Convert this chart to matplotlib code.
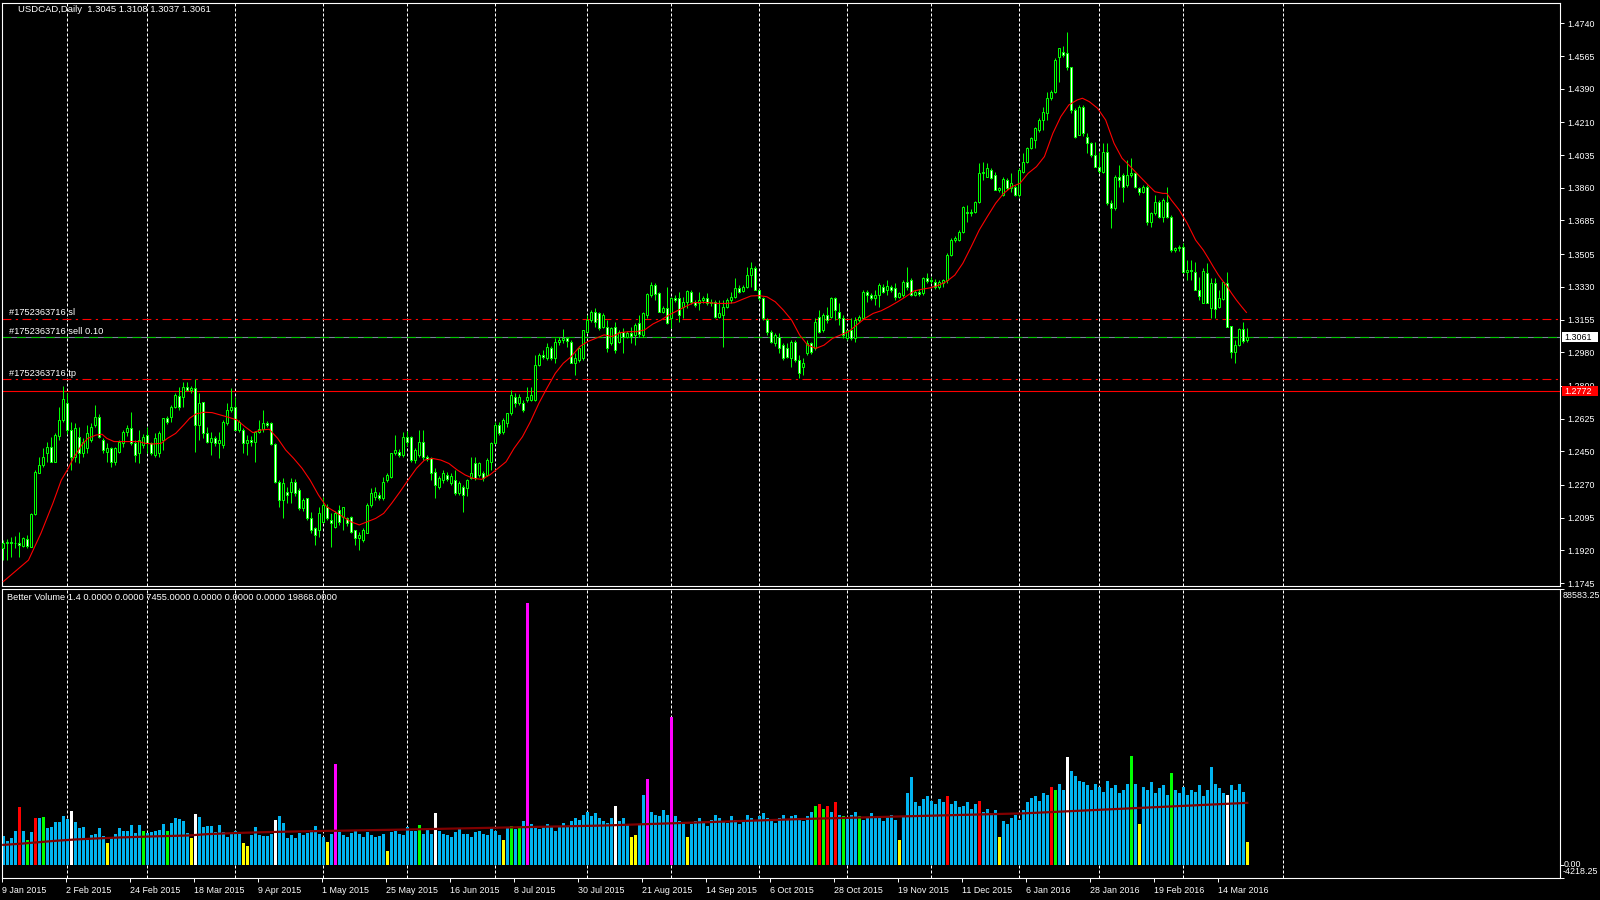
import numpy as np
import matplotlib.pyplot as plt
from matplotlib.patches import Rectangle

plt.rcParams['font.family'] = ['Liberation Sans', 'DejaVu Sans']

# USDCAD daily candles, bar 0 = 9 Jan 2015, bar 311 = 23 Mar 2016
opens = [
    1.1930, 1.1960, 1.1966, 1.1957, 1.1960, 1.1945, 1.1982, 1.1940, 1.2115, 1.2332,
    1.2377, 1.2439, 1.2475, 1.2394, 1.2530, 1.2618, 1.2707, 1.2566, 1.2421, 1.2528,
    1.2439, 1.2466, 1.2511, 1.2591, 1.2633, 1.2511, 1.2448, 1.2466, 1.2394, 1.2448,
    1.2493, 1.2555, 1.2573, 1.2493, 1.2439, 1.2484, 1.2537, 1.2493, 1.2430, 1.2439,
    1.2511, 1.2627, 1.2636, 1.2689, 1.2746, 1.2742, 1.2796, 1.2778, 1.2787, 1.2591,
    1.2716, 1.2546, 1.2500, 1.2519, 1.2495, 1.2484, 1.2600, 1.2671, 1.2689, 1.2564,
    1.2564, 1.2493, 1.2511, 1.2500, 1.2555, 1.2570, 1.2600, 1.2600, 1.2490, 1.2287,
    1.2189, 1.2234, 1.2234, 1.2287, 1.2243, 1.2145, 1.2198, 1.2091, 1.2038, 1.2029,
    1.2073, 1.2154, 1.2082, 1.2047, 1.2136, 1.2100, 1.2091, 1.2100, 1.2029, 1.1984,
    1.1975, 1.2011, 1.2163, 1.2207, 1.2216, 1.2198, 1.2296, 1.2314, 1.2439, 1.2448,
    1.2430, 1.2528, 1.2528, 1.2403, 1.2430, 1.2502, 1.2421, 1.2412, 1.2341, 1.2261,
    1.2296, 1.2323, 1.2280, 1.2296, 1.2225, 1.2261, 1.2252, 1.2305, 1.2385, 1.2323,
    1.2332, 1.2323, 1.2394, 1.2493, 1.2591, 1.2555, 1.2600, 1.2653, 1.2742, 1.2707,
    1.2707, 1.2725, 1.2725, 1.2725, 1.2912, 1.2966, 1.2948, 1.3001, 1.2948, 1.3037,
    1.3046, 1.3055, 1.3037, 1.2921, 1.2939, 1.2948, 1.3090, 1.3153, 1.3197, 1.3188,
    1.3117, 1.3117, 1.3028, 1.3117, 1.3037, 1.3090, 1.3063, 1.3085, 1.3072, 1.3135,
    1.3070, 1.3179, 1.3286, 1.3340, 1.3295, 1.3197, 1.3215, 1.3161, 1.3268, 1.3268,
    1.3224, 1.3250, 1.3304, 1.3250, 1.3241, 1.3259, 1.3268, 1.3241, 1.3250, 1.3170,
    1.3179, 1.3224, 1.3259, 1.3277, 1.3322, 1.3310, 1.3331, 1.3393, 1.3429, 1.3313,
    1.3268, 1.3152, 1.3090, 1.3027, 1.3063, 1.3018, 1.3001, 1.2947, 1.3036, 1.2938,
    1.2902, 1.2974, 1.3027, 1.3001, 1.3170, 1.3099, 1.3179, 1.3170, 1.3268, 1.3197,
    1.3161, 1.3054, 1.3099, 1.3054, 1.3152, 1.3161, 1.3304, 1.3286, 1.3268, 1.3286,
    1.3331, 1.3313, 1.3331, 1.3322, 1.3277, 1.3286, 1.3358, 1.3366, 1.3286, 1.3304,
    1.3295, 1.3375, 1.3360, 1.3358, 1.3331, 1.3349, 1.3366, 1.3500, 1.3580, 1.3580,
    1.3625, 1.3732, 1.3723, 1.3732, 1.3786, 1.3937, 1.3920, 1.3955, 1.3928, 1.3848,
    1.3821, 1.3902, 1.3857, 1.3866, 1.3821, 1.3946, 1.4000, 1.4071, 1.4116, 1.4169,
    1.4223, 1.4258, 1.4339, 1.4374, 1.4562, 1.4589, 1.4580, 1.4508, 1.4276, 1.4143,
    1.4290, 1.4134, 1.4098, 1.4035, 1.3973, 1.3946, 1.4053, 1.3777, 1.3750, 1.3920,
    1.3928, 1.3875, 1.3928, 1.3937, 1.3857, 1.3840, 1.3866, 1.3679, 1.3723, 1.3786,
    1.3705, 1.3786, 1.3705, 1.3527, 1.3536, 1.3545, 1.3411, 1.3420, 1.3411, 1.3313,
    1.3245, 1.3406, 1.3215, 1.3349, 1.3224, 1.3263, 1.3349, 1.3120, 1.2983, 1.3019,
    1.3104, 1.3045,
]
highs = [
    1.1975, 1.1980, 1.1993, 1.1995, 1.2020, 1.1993, 1.2002, 1.2118, 1.2350, 1.2421,
    1.2466, 1.2502, 1.2528, 1.2546, 1.2689, 1.2801, 1.2760, 1.2609, 1.2600, 1.2582,
    1.2520, 1.2591, 1.2600, 1.2698, 1.2650, 1.2520, 1.2493, 1.2475, 1.2475, 1.2511,
    1.2564, 1.2590, 1.2662, 1.2511, 1.2564, 1.2540, 1.2582, 1.2500, 1.2546, 1.2560,
    1.2630, 1.2640, 1.2698, 1.2760, 1.2796, 1.2823, 1.2823, 1.2800, 1.2835, 1.2760,
    1.2716, 1.2582, 1.2555, 1.2530, 1.2555, 1.2618, 1.2707, 1.2787, 1.2742, 1.2620,
    1.2573, 1.2537, 1.2530, 1.2560, 1.2618, 1.2671, 1.2610, 1.2609, 1.2493, 1.2296,
    1.2305, 1.2261, 1.2305, 1.2300, 1.2252, 1.2200, 1.2198, 1.2127, 1.2047, 1.2154,
    1.2207, 1.2170, 1.2118, 1.2130, 1.2163, 1.2154, 1.2100, 1.2105, 1.2029, 1.2020,
    1.2038, 1.2172, 1.2252, 1.2261, 1.2230, 1.2314, 1.2335, 1.2440, 1.2537, 1.2460,
    1.2555, 1.2560, 1.2530, 1.2470, 1.2564, 1.2564, 1.2430, 1.2421, 1.2359, 1.2320,
    1.2350, 1.2340, 1.2335, 1.2350, 1.2290, 1.2270, 1.2300, 1.2421, 1.2421, 1.2395,
    1.2345, 1.2412, 1.2502, 1.2609, 1.2609, 1.2630, 1.2653, 1.2778, 1.2760, 1.2755,
    1.2725, 1.2796, 1.2796, 1.2966, 1.2974, 1.2990, 1.3028, 1.3015, 1.3055, 1.3060,
    1.3103, 1.3064, 1.3046, 1.2974, 1.3010, 1.3099, 1.3180, 1.3206, 1.3215, 1.3195,
    1.3190, 1.3153, 1.3115, 1.3144, 1.3100, 1.3108, 1.3095, 1.3117, 1.3135, 1.3179,
    1.3197, 1.3295, 1.3358, 1.3349, 1.3304, 1.3225, 1.3331, 1.3277, 1.3285, 1.3304,
    1.3277, 1.3313, 1.3313, 1.3260, 1.3304, 1.3280, 1.3295, 1.3265, 1.3259, 1.3259,
    1.3259, 1.3270, 1.3304, 1.3375, 1.3340, 1.3340, 1.3438, 1.3465, 1.3440, 1.3320,
    1.3277, 1.3161, 1.3099, 1.3085, 1.3081, 1.3027, 1.3027, 1.3045, 1.3045, 1.2965,
    1.2947, 1.3045, 1.3036, 1.3161, 1.3206, 1.3190, 1.3224, 1.3277, 1.3277, 1.3241,
    1.3179, 1.3099, 1.3161, 1.3170, 1.3180, 1.3313, 1.3313, 1.3295, 1.3313, 1.3349,
    1.3345, 1.3366, 1.3340, 1.3349, 1.3305, 1.3366, 1.3438, 1.3375, 1.3315, 1.3320,
    1.3384, 1.3402, 1.3380, 1.3370, 1.3365, 1.3370, 1.3509, 1.3589, 1.3600, 1.3634,
    1.3765, 1.3768, 1.3745, 1.3790, 1.3991, 1.4000, 1.3991, 1.3965, 1.3946, 1.3865,
    1.3920, 1.3910, 1.3937, 1.3875, 1.3964, 1.4044, 1.4080, 1.4134, 1.4187, 1.4235,
    1.4294, 1.4374, 1.4385, 1.4553, 1.4610, 1.4620, 1.4696, 1.4508, 1.4285, 1.4303,
    1.4303, 1.4151, 1.4107, 1.4107, 1.4053, 1.4098, 1.4098, 1.3795, 1.3928, 1.3982,
    1.3937, 1.4009, 1.4018, 1.3946, 1.3866, 1.3875, 1.3875, 1.3732, 1.3821, 1.3795,
    1.3804, 1.3866, 1.3714, 1.3545, 1.3555, 1.3563, 1.3473, 1.3473, 1.3465, 1.3384,
    1.3429, 1.3456, 1.3375, 1.3375, 1.3313, 1.3358, 1.3411, 1.3120, 1.3045, 1.3108,
    1.3143, 1.3108,
]
lows = [
    1.1868, 1.1868, 1.1886, 1.1930, 1.1886, 1.1940, 1.1931, 1.1940, 1.2110, 1.2332,
    1.2368, 1.2394, 1.2394, 1.2394, 1.2511, 1.2609, 1.2540, 1.2350, 1.2394, 1.2385,
    1.2420, 1.2439, 1.2500, 1.2582, 1.2520, 1.2440, 1.2394, 1.2368, 1.2377, 1.2440,
    1.2475, 1.2530, 1.2484, 1.2394, 1.2385, 1.2470, 1.2439, 1.2430, 1.2421, 1.2421,
    1.2457, 1.2595, 1.2609, 1.2680, 1.2671, 1.2689, 1.2770, 1.2760, 1.2448, 1.2511,
    1.2519, 1.2495, 1.2430, 1.2480, 1.2412, 1.2466, 1.2591, 1.2662, 1.2564, 1.2555,
    1.2439, 1.2430, 1.2480, 1.2394, 1.2546, 1.2555, 1.2580, 1.2484, 1.2278, 1.2154,
    1.2091, 1.2172, 1.2172, 1.2210, 1.2136, 1.2130, 1.2082, 1.2011, 1.1949, 1.1993,
    1.2065, 1.2080, 1.1940, 1.2040, 1.2056, 1.2029, 1.2050, 1.2011, 1.1949, 1.1922,
    1.1966, 1.2011, 1.2154, 1.2189, 1.2190, 1.2189, 1.2285, 1.2305, 1.2430, 1.2420,
    1.2421, 1.2480, 1.2394, 1.2390, 1.2421, 1.2403, 1.2400, 1.2296, 1.2198, 1.2250,
    1.2278, 1.2290, 1.2270, 1.2216, 1.2215, 1.2127, 1.2210, 1.2300, 1.2296, 1.2310,
    1.2290, 1.2320, 1.2350, 1.2490, 1.2537, 1.2540, 1.2582, 1.2644, 1.2689, 1.2700,
    1.2662, 1.2716, 1.2720, 1.2720, 1.2905, 1.2945, 1.2939, 1.2940, 1.2921, 1.3020,
    1.3028, 1.3010, 1.2921, 1.2858, 1.2930, 1.2939, 1.3081, 1.3144, 1.3117, 1.3100,
    1.3110, 1.2983, 1.3020, 1.2974, 1.3030, 1.2974, 1.3055, 1.3027, 1.3018, 1.3063,
    1.3063, 1.3161, 1.3277, 1.3259, 1.3197, 1.3190, 1.3130, 1.3108, 1.3250, 1.3143,
    1.3161, 1.3215, 1.3240, 1.3220, 1.3206, 1.3245, 1.3233, 1.3230, 1.3161, 1.3165,
    1.3009, 1.3215, 1.3241, 1.3268, 1.3295, 1.3300, 1.3322, 1.3331, 1.3313, 1.3260,
    1.3152, 1.3072, 1.3027, 1.3015, 1.2974, 1.2938, 1.2947, 1.2902, 1.2930, 1.2840,
    1.2858, 1.2965, 1.2970, 1.2992, 1.3081, 1.3090, 1.3135, 1.3161, 1.3152, 1.3126,
    1.3054, 1.3045, 1.3045, 1.3036, 1.3140, 1.3161, 1.3250, 1.3260, 1.3233, 1.3224,
    1.3295, 1.3286, 1.3300, 1.3259, 1.3270, 1.3277, 1.3313, 1.3280, 1.3280, 1.3280,
    1.3286, 1.3349, 1.3350, 1.3320, 1.3320, 1.3331, 1.3349, 1.3495, 1.3570, 1.3575,
    1.3620, 1.3679, 1.3710, 1.3723, 1.3777, 1.3902, 1.3915, 1.3905, 1.3848, 1.3840,
    1.3815, 1.3850, 1.3839, 1.3815, 1.3812, 1.3937, 1.3991, 1.4065, 1.4071, 1.4160,
    1.4169, 1.4223, 1.4330, 1.4366, 1.4428, 1.4560, 1.4490, 1.4258, 1.4125, 1.4140,
    1.4135, 1.4044, 1.4027, 1.3970, 1.3937, 1.3940, 1.3768, 1.3643, 1.3741, 1.3866,
    1.3786, 1.3866, 1.3920, 1.3857, 1.3821, 1.3830, 1.3661, 1.3652, 1.3714, 1.3697,
    1.3679, 1.3697, 1.3518, 1.3515, 1.3520, 1.3402, 1.3366, 1.3366, 1.3313, 1.3259,
    1.3242, 1.3242, 1.3161, 1.3161, 1.3215, 1.3259, 1.3117, 1.2947, 1.2924, 1.3015,
    1.3027, 1.3037,
]
closes = [
    1.1960, 1.1966, 1.1957, 1.1960, 1.1950, 1.1984, 1.1945, 1.2115, 1.2337, 1.2377,
    1.2421, 1.2475, 1.2394, 1.2537, 1.2618, 1.2730, 1.2564, 1.2421, 1.2573, 1.2439,
    1.2502, 1.2546, 1.2582, 1.2636, 1.2528, 1.2457, 1.2466, 1.2394, 1.2466, 1.2502,
    1.2555, 1.2573, 1.2493, 1.2430, 1.2511, 1.2528, 1.2493, 1.2439, 1.2519, 1.2546,
    1.2627, 1.2605, 1.2689, 1.2751, 1.2689, 1.2796, 1.2778, 1.2790, 1.2591, 1.2707,
    1.2546, 1.2500, 1.2519, 1.2495, 1.2511, 1.2609, 1.2671, 1.2689, 1.2564, 1.2609,
    1.2493, 1.2511, 1.2500, 1.2555, 1.2570, 1.2600, 1.2590, 1.2490, 1.2287, 1.2189,
    1.2278, 1.2216, 1.2287, 1.2225, 1.2145, 1.2189, 1.2091, 1.2029, 1.2002, 1.2118,
    1.2163, 1.2091, 1.2065, 1.2118, 1.2073, 1.2154, 1.2065, 1.2020, 1.1984, 1.2000,
    1.2029, 1.2163, 1.2225, 1.2234, 1.2198, 1.2287, 1.2323, 1.2439, 1.2457, 1.2430,
    1.2528, 1.2500, 1.2403, 1.2457, 1.2502, 1.2421, 1.2410, 1.2332, 1.2270, 1.2305,
    1.2332, 1.2300, 1.2320, 1.2225, 1.2278, 1.2216, 1.2296, 1.2332, 1.2305, 1.2385,
    1.2305, 1.2403, 1.2493, 1.2591, 1.2546, 1.2618, 1.2653, 1.2751, 1.2707, 1.2742,
    1.2671, 1.2742, 1.2751, 1.2912, 1.2966, 1.2957, 1.3010, 1.2948, 1.3037, 1.3046,
    1.3055, 1.3040, 1.2921, 1.2948, 1.3001, 1.3099, 1.3153, 1.3197, 1.3144, 1.3108,
    1.3180, 1.3001, 1.3108, 1.2992, 1.3090, 1.3063, 1.3085, 1.3065, 1.3126, 1.3080,
    1.3188, 1.3292, 1.3340, 1.3290, 1.3197, 1.3215, 1.3135, 1.3268, 1.3260, 1.3179,
    1.3250, 1.3309, 1.3250, 1.3233, 1.3259, 1.3268, 1.3241, 1.3250, 1.3170, 1.3188,
    1.3224, 1.3259, 1.3277, 1.3322, 1.3304, 1.3331, 1.3393, 1.3429, 1.3313, 1.3268,
    1.3161, 1.3090, 1.3036, 1.3072, 1.3001, 1.2947, 1.2956, 1.3036, 1.2938, 1.2867,
    1.2920, 1.3027, 1.2980, 1.3143, 1.3090, 1.3179, 1.3152, 1.3268, 1.3206, 1.3161,
    1.3072, 1.3099, 1.3054, 1.3152, 1.3170, 1.3304, 1.3286, 1.3270, 1.3286, 1.3340,
    1.3304, 1.3335, 1.3313, 1.3277, 1.3295, 1.3358, 1.3331, 1.3286, 1.3304, 1.3290,
    1.3375, 1.3360, 1.3366, 1.3331, 1.3358, 1.3366, 1.3500, 1.3580, 1.3589, 1.3625,
    1.3759, 1.3723, 1.3732, 1.3786, 1.3937, 1.3946, 1.3964, 1.3911, 1.3848, 1.3857,
    1.3905, 1.3857, 1.3884, 1.3821, 1.3955, 1.4000, 1.4071, 1.4125, 1.4178, 1.4223,
    1.4267, 1.4339, 1.4374, 1.4544, 1.4606, 1.4570, 1.4508, 1.4276, 1.4134, 1.4294,
    1.4151, 1.4098, 1.4035, 1.3973, 1.3950, 1.4053, 1.3777, 1.3750, 1.3920, 1.3902,
    1.3866, 1.3928, 1.3940, 1.3866, 1.3840, 1.3866, 1.3679, 1.3723, 1.3786, 1.3705,
    1.3795, 1.3705, 1.3527, 1.3536, 1.3545, 1.3411, 1.3420, 1.3416, 1.3313, 1.3281,
    1.3416, 1.3245, 1.3349, 1.3209, 1.3268, 1.3358, 1.3117, 1.2983, 1.3019, 1.3104,
    1.3042, 1.3061,
]

# red moving average (bar position, value)
ma_bars = [
    0, 6.3, 9.4, 12.4, 14.5, 16.0, 17.5, 19.6, 21.1, 23.2,
    24.7, 25.9, 27.7, 29.8, 31.8, 33.9, 35.4, 37.4, 39.5, 41.0,
    43.1, 45.1, 46.6, 48.2, 50.2, 52.2, 54.3, 56.3, 58.4, 60.4,
    62.4, 64.5, 66.5, 68.6, 70.6, 72.6, 74.7, 76.7, 78.8, 80.8,
    82.9, 84.9, 86.9, 89.0, 91.0, 93.1, 95.1, 97.1, 99.2, 101.2,
    103.3, 105.3, 107.3, 109.4, 111.4, 113.5, 115.5, 117.5, 119.6, 121.6,
    123.7, 125.7, 127.7, 129.8, 131.8, 133.9, 135.9, 138.0, 140.0, 142.0,
    144.1, 146.1, 148.2, 150.2, 152.2, 154.3, 156.3, 158.3, 160.3, 162.4,
    164.4, 166.4, 168.5, 170.5, 172.6, 174.6, 176.6, 178.7, 180.7, 182.8,
    184.8, 186.9, 188.9, 190.9, 193.0, 195.0, 197.1, 199.1, 201.1, 203.2,
    205.2, 207.3, 209.3, 211.3, 213.4, 215.4, 217.5, 219.5, 221.5, 223.6,
    225.6, 227.7, 229.7, 231.8, 233.8, 235.8, 237.9, 239.9, 242.0, 244.0,
    246.0, 248.1, 250.1, 252.2, 254.2, 256.2, 258.3, 260.3, 262.4, 264.4,
    266.4, 268.5, 269.8, 271.5, 273.6, 275.6, 277.7, 279.7, 281.8, 283.8,
    285.8, 287.9, 289.9, 290.9, 292.0, 294.0, 296.0, 298.1, 300.0, 301.3,
    302.5, 303.8, 305.0, 306.0, 307.1, 308.3, 309.6, 310.8,
]
ma_vals = [
    1.1753, 1.1868, 1.2011, 1.2172, 1.2296, 1.2350, 1.2412, 1.2484, 1.2519, 1.2537,
    1.2541, 1.2519, 1.2502, 1.2502, 1.2502, 1.2502, 1.2493, 1.2489, 1.2493, 1.2519,
    1.2546, 1.2591, 1.2627, 1.2650, 1.2659, 1.2657, 1.2644, 1.2632, 1.2618, 1.2582,
    1.2550, 1.2564, 1.2568, 1.2519, 1.2457, 1.2412, 1.2359, 1.2296, 1.2216, 1.2154,
    1.2127, 1.2100, 1.2073, 1.2056, 1.2073, 1.2091, 1.2118, 1.2172, 1.2234, 1.2296,
    1.2359, 1.2403, 1.2412, 1.2403, 1.2385, 1.2350, 1.2323, 1.2305, 1.2300, 1.2323,
    1.2359, 1.2394, 1.2466, 1.2528, 1.2609, 1.2707, 1.2787, 1.2867, 1.2921, 1.2957,
    1.3010, 1.3037, 1.3055, 1.3073, 1.3064, 1.3085, 1.3090, 1.3090, 1.3099, 1.3131,
    1.3152, 1.3179, 1.3202, 1.3224, 1.3245, 1.3247, 1.3245, 1.3241, 1.3241, 1.3245,
    1.3263, 1.3281, 1.3283, 1.3277, 1.3250, 1.3206, 1.3152, 1.3072, 1.3018, 1.3001,
    1.3018, 1.3054, 1.3072, 1.3090, 1.3126, 1.3161, 1.3188, 1.3202, 1.3224, 1.3250,
    1.3277, 1.3308, 1.3317, 1.3325, 1.3338, 1.3358, 1.3393, 1.3456, 1.3545, 1.3634,
    1.3705, 1.3777, 1.3830, 1.3866, 1.3884, 1.3937, 1.3973, 1.4027, 1.4151, 1.4241,
    1.4303, 1.4330, 1.4339, 1.4321, 1.4285, 1.4223, 1.4098, 1.4018, 1.3973, 1.3928,
    1.3884, 1.3839, 1.3830, 1.3830, 1.3795, 1.3741, 1.3670, 1.3580, 1.3527, 1.3482,
    1.3438, 1.3393, 1.3358, 1.3331, 1.3295, 1.3259, 1.3224, 1.3193,
]

# Better Volume 1.4 histogram
volumes = [
    9100, 7490, 8560, 10900, 18400, 10900, 8000, 10600, 15100, 15100,
    15400, 11900, 12200, 13800, 13800, 15700, 14800, 17300, 13800, 11900,
    12200, 8000, 9600, 9950, 11900, 9300, 7060, 9000, 9950, 11900,
    10900, 10900, 12800, 10300, 12800, 10900, 10300, 10600, 10900, 11200,
    13200, 10900, 13500, 15100, 14800, 14100, 10300, 8700, 16400, 15400,
    12200, 12500, 12500, 10600, 12800, 10600, 9000, 9950, 10900, 9950,
    7060, 6100, 9600, 12200, 9600, 9300, 9300, 9950, 14400, 15700,
    13500, 8700, 9600, 8700, 10300, 9600, 10300, 11200, 12500, 10000,
    9000, 7200, 9800, 32400, 10500, 9500, 9000, 10200, 11000, 9800,
    9000, 10500, 9600, 8800, 9300, 10000, 4500, 10500, 11000, 10000,
    9500, 12000, 11000, 10800, 12800, 10000, 11500, 10000, 16700, 11000,
    10000, 9500, 9000, 10500, 11500, 10000, 9800, 9000, 10500, 11000,
    10000, 9500, 12000, 11000, 9500, 8000, 12000, 12500, 11500, 12000,
    14000, 84000, 13000, 12000, 11500, 12500, 13000, 12000, 11000, 12500,
    13500, 12000, 14000, 15000, 14500, 16000, 17000, 15500, 16500, 15000,
    14000, 13500, 15000, 19000, 14000, 15000, 13000, 9000, 9500, 13000,
    22300, 27500, 17000, 16000, 15500, 17500, 16000, 47500, 15500, 14000,
    13000, 9000, 13000, 14000, 15000, 13500, 12500, 14500, 16000, 15000,
    14000, 13500, 15500, 14500, 13000, 14000, 16000, 15000, 14500, 15500,
    16500, 15000, 14000, 13500, 15000, 16000, 14500, 15500, 16000, 15000,
    14000, 15500, 17000, 19000, 19500, 18000, 19000, 17000, 20000, 16000,
    15500, 15000, 16000, 17000, 15500, 14500, 15000, 16500, 15500, 15000,
    14000, 15500, 16000, 14500, 8000, 15500, 23000, 28200, 20000, 19000,
    21000, 22000, 20500, 19500, 21000, 20000, 22000, 19500, 20500, 18500,
    19000, 20000, 18000, 19500, 20500, 17000, 18000, 16500, 17500, 9000,
    14000, 13000, 15000, 16000, 14500, 17500, 20000, 21500, 22000, 20500,
    23000, 22500, 25000, 24000, 26000, 24000, 34700, 30000, 28500, 27000,
    26500, 25500, 24000, 26000, 25000, 23500, 27000, 24500, 25500, 23000,
    24000, 26000, 35000, 26000, 13000, 25000, 24000, 26500, 23000, 24500,
    25500, 22500, 29500, 24000, 23000, 25000, 22500, 24000, 23500, 25500,
    22000, 24000, 31500, 26000, 24500, 23000, 22300, 25500, 24000, 26000,
    23500, 7455,
]
# b=normal, r=climax, g=climax low, w=churn, y=low volume, m=climax churn
vol_kind = (
    "bbbbrbgbrb" "gbbbbbbwbb" "bbbbbbybbb" "bbbbbgbbbb" "bgbbbbbywb"
    "bbbbbbbbbb" "yybbbbbbwb" "bbbbbbbbbb" "bybmbbbbbb" "bbbbbbybbb"
    "bbbbgbbbwb" "bbbbbbbbbb" "bbbbbybgbg" "bmbbbbbbbb" "bbbbbbbbbb"
    "bbbwbbbyyb" "bmbbbbbmbb" "bybbbbbbbb" "bbbbbbbbbb" "bbbbbbbbbb"
    "bbbgrgrbrb" "gbbbgbbbbb" "bbbbybbbbb" "bbbbbbrbbb" "bbbbrbbbby"
    "bbbbbbbbbb" "bbrgbbwbbb" "bbbbbbbbbb" "bbgbybbbbb" "bbgbbbbbbb"
    "bbbbbbwbbb" "by"
)
vol_ma_bars = [0, 4, 8, 13, 18, 23, 29, 37, 46, 51, 58, 66, 73, 100, 150, 200, 230, 255, 280, 311]
vol_ma_vals = [6400, 6740, 7170, 7700, 8130, 8450, 8770, 9100, 9400, 9840,
               10200, 10500, 10700, 11300, 12600, 14700, 15700, 16500, 18000, 19868]

# axis and chart annotations
price_ticks = [1.4740, 1.4565, 1.4390, 1.4210, 1.4035, 1.3860, 1.3685, 1.3505, 1.3330,
               1.3155, 1.2980, 1.2800, 1.2625, 1.2450, 1.2270, 1.2095, 1.1920, 1.1745]
date_bars = list(range(0, 305, 16))
date_labels = ['9 Jan 2015', '2 Feb 2015', '24 Feb 2015', '18 Mar 2015', '9 Apr 2015',
               '1 May 2015', '25 May 2015', '16 Jun 2015', '8 Jul 2015', '30 Jul 2015',
               '21 Aug 2015', '14 Sep 2015', '6 Oct 2015', '28 Oct 2015', '19 Nov 2015',
               '11 Dec 2015', '6 Jan 2016', '28 Jan 2016', '19 Feb 2016', '14 Mar 2016']
month_bars = [16, 36, 58, 80, 101, 123, 146, 167, 189, 211, 232, 254, 274, 295, 320]
sl_price = 1.3160
tp_price = 1.2835
bid_price = 1.3061
hline_price = 1.2772
vol_top, vol_bottom = 88583.25, -4218.25

W, H = 1600, 900
fig = plt.figure(figsize=(16, 9), dpi=100, facecolor='black')


def axes_px(left, top, right, bottom):
    return fig.add_axes([left / W, 1 - bottom / H, (right - left) / W, (bottom - top) / H])


ax = axes_px(1.5, 3, 1560, 586)
axv = axes_px(1.5, 588.5, 1560, 878)

lime = '#00ff00'
for a in (ax, axv):
    a.set_facecolor('black')
    for s in a.spines.values():
        s.set_color('white')
        s.set_linewidth(0.8)
    a.set_xlim(-0.45, 389.2)
    for m in month_bars:
        a.axvline(m, color='white', lw=0.72, ls=(0, (3, 2)), zorder=1)

# candles
o = np.array(opens)
h = np.array(highs)
l = np.array(lows)
c = np.array(closes)
idx = np.arange(len(c))
ax.vlines(idx, l, h, color=lime, lw=0.72, zorder=2)
body_face = np.where(c >= o, 'black', 'white')
ax.bar(idx, np.abs(c - o), bottom=np.minimum(o, c), width=0.5, color=body_face,
       edgecolor=lime, linewidth=0.72, zorder=3)
ax.plot(ma_bars, ma_vals, color='#ff0000', lw=0.8, zorder=4)

# order / level lines
ax.axhline(sl_price, color='#ff0000', lw=0.8, ls=(0, (8, 4, 2, 4)), zorder=1.5)
ax.axhline(tp_price, color='#ff0000', lw=0.8, ls=(0, (8, 4, 2, 4)), zorder=1.5)
ax.axhline(bid_price, color='#778899', lw=0.8, zorder=1.5)
ax.axhline(bid_price, color='#00c800', lw=0.8, ls=(0, (8, 5)), zorder=1.6)
ax.axhline(hline_price, color='#ff0000', lw=0.8, zorder=1.5)
for price, txt in [(sl_price, '#1752363716 sl'), (bid_price, '#1752363716 sell 0.10'),
                   (tp_price, '#1752363716 tp')]:
    ax.text(1.5, price + 0.0032, txt, color='white', fontsize=6.7, va='center', zorder=6)

ax.set_ylim(1.17293, 1.48486)
ax.yaxis.tick_right()
ax.set_yticks(price_ticks)
ax.set_yticklabels([f'{v:.4f}' for v in price_ticks])
ax.tick_params(axis='y', colors='white', labelsize=6.4, length=3, width=0.7, pad=2)
ax.set_xticks([])

# volume panel
vol_colors = {'b': '#00b4f0', 'r': '#ff0000', 'g': '#00ff00', 'w': '#ffffff',
              'y': '#ffff00', 'm': '#ff00ff'}
axv.bar(idx, volumes, width=0.75, color=[vol_colors[k] for k in vol_kind], lw=0, zorder=2)
axv.plot(vol_ma_bars, vol_ma_vals, color='#800000', lw=1.6, zorder=3)
axv.set_ylim(vol_bottom, vol_top)
axv.yaxis.tick_right()
axv.set_yticks([vol_top, 0, vol_bottom])
axv.set_yticklabels([])
axv.tick_params(axis='y', colors='white', length=3, width=0.7)
axv.set_xticks([b - 0.25 for b in date_bars])
axv.set_xticklabels(date_labels)
axv.tick_params(axis='x', colors='white', labelsize=6.4, length=3, width=0.7, pad=2.5)
for lbl in axv.get_xticklabels():
    lbl.set_ha('left')

# texts in pixel positions
fig.text(18 / W, 1 - 10 / H, 'USDCAD,Daily  1.3045 1.3108 1.3037 1.3061',
         color='white', fontsize=6.8, va='center')
fig.text(7 / W, 1 - 597.5 / H,
         'Better Volume 1.4 0.0000 0.0000 7455.0000 0.0000 0.0000 0.0000 19868.0000',
         color='white', fontsize=6.7, va='center')
fig.text(1563 / W, 1 - 595 / H, f'{vol_top:.2f}', color='white', fontsize=6.4, va='center')
fig.text(1564 / W, 1 - 864.5 / H, '0.00', color='white', fontsize=6.4, va='center')
fig.text(1563 / W, 1 - 872 / H, f'{vol_bottom:.2f}', color='white', fontsize=6.4, va='center')

# price boxes on the right scale
fig.canvas.draw()
for price, face, fg in [(bid_price, 'white', 'black'), (hline_price, '#ff0000', 'white')]:
    y_disp = ax.transData.transform((0, price))[1]
    yf = y_disp / H
    fig.add_artist(Rectangle((1562 / W, yf - 5.3 / H), 36 / W, 10.6 / H,
                             transform=fig.transFigure, facecolor=face, edgecolor='none'))
    fig.text(1564.5 / W, yf, f'{price:.4f}', color=fg, fontsize=6.4, va='center')

fig.savefig('out.png', dpi=100, facecolor='black')
